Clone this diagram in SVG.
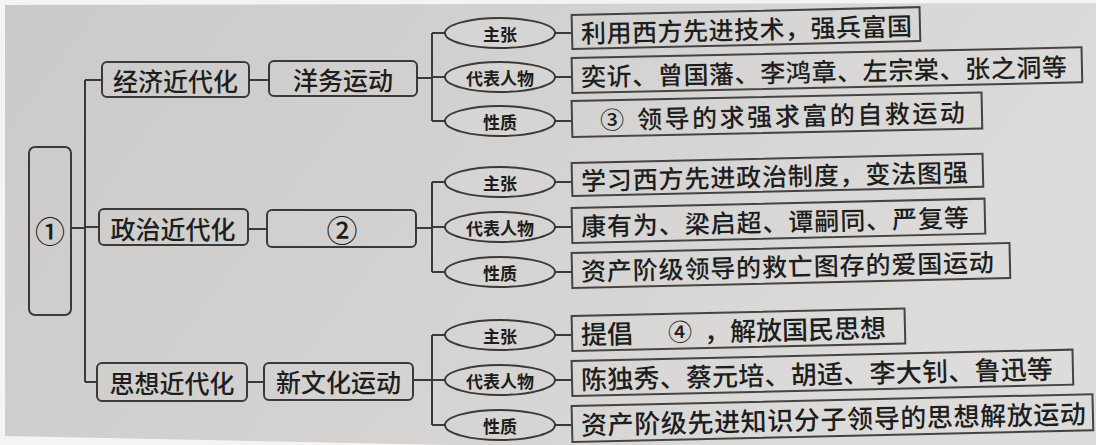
<svg xmlns="http://www.w3.org/2000/svg" width="1096" height="445" viewBox="0 0 1096 445">
<defs>
<linearGradient id="bg" x1="0" y1="0" x2="1" y2="0.3">
<stop offset="0" stop-color="#cbcac8"/>
<stop offset="0.5" stop-color="#d3d2d0"/>
<stop offset="1" stop-color="#dddcda"/>
</linearGradient>
<style>
.ln{stroke:#3a3a3a;stroke-width:2;fill:none}
.rbox{fill:none;stroke:#3a3a3a;stroke-width:2}
.ell{fill:#d6d5d3;stroke:#3a3a3a;stroke-width:2}
.tb{fill:none;stroke:#444;stroke-width:2}
.t{font-family:"Noto Sans CJK SC","Noto Sans CJK TC",sans-serif;fill:#1e1e1e;dominant-baseline:central;font-weight:500}
.big{font-size:25px;text-anchor:middle}
.lab{font-size:17px;font-weight:bold;text-anchor:middle}
.bx{font-size:25px}
</style>
</defs>
<rect x="0" y="0" width="1096" height="445" fill="#f4f4f4"/>
<polygon points="5,5 1096,3 1096,445 450,445 5,436" fill="url(#bg)"/>

<g id="connectors">
<path class="ln" d="M71,228 H85 M85,80 V382 M85,80 H102 M85,227 H99 M85,382 H97"/>
<path class="ln" d="M249,80 H269 M417,78 H432 M248,229 H267 M416,228 H432 M247,382 H264 M413,380 H432"/>
<path class="ln" d="M432,33 V121 M432,33 H445 M432,77 H445 M432,121 H445 M555,33 H572 M555,77 H572 M555,121 H572"/>
<path class="ln" d="M432,182 V272 M432,182 H445 M432,227 H445 M432,272 H445 M555,182 H572 M555,227 H572 M555,272 H572"/>
<path class="ln" d="M432,335 V425 M432,335 H445 M432,380 H445 M432,425 H445 M555,335 H572 M555,380 H572 M555,425 H572"/>
</g>

<g id="root">
<rect class="rbox" x="29" y="147" width="42" height="168" rx="6"/>
<text class="t big" x="50" y="230" style="font-size:30px">①</text>
</g>

<g id="n-jingji">
<rect class="rbox" x="102" y="62" width="147" height="35" rx="5"/>
<text class="t big" x="175.5" y="80">经济近代化</text>
</g>
<g id="n-zhengzhi">
<rect class="rbox" x="99" y="209" width="149" height="36" rx="5"/>
<text class="t big" x="173" y="228">政治近代化</text>
</g>
<g id="n-sixiang">
<rect class="rbox" x="97" y="363" width="150" height="38" rx="5"/>
<text class="t big" x="172" y="382">思想近代化</text>
</g>

<g id="n-yangwu">
<rect class="rbox" x="269" y="61" width="148" height="35" rx="5"/>
<text class="t big" x="343" y="79">洋务运动</text>
</g>
<g id="n-2">
<rect class="rbox" x="267" y="210" width="149" height="37" rx="5"/>
<text class="t big" x="342" y="228" style="font-size:31px">②</text>
</g>
<g id="n-xinwenhua">
<rect class="rbox" x="264" y="363" width="149" height="37" rx="5"/>
<text class="t big" x="338.5" y="381">新文化运动</text>
</g>

<g id="e1a"><ellipse class="ell" cx="500" cy="33" rx="55" ry="15"/><text class="t lab" x="500" y="33">主张</text></g>
<g id="e1b"><ellipse class="ell" cx="500" cy="77" rx="55" ry="15"/><text class="t lab" x="500" y="77">代表人物</text></g>
<g id="e1c"><ellipse class="ell" cx="500" cy="121" rx="55" ry="15"/><text class="t lab" x="500" y="121">性质</text></g>
<g id="e2a"><ellipse class="ell" cx="500" cy="182" rx="55" ry="15"/><text class="t lab" x="500" y="182">主张</text></g>
<g id="e2b"><ellipse class="ell" cx="500" cy="227" rx="55" ry="15"/><text class="t lab" x="500" y="227">代表人物</text></g>
<g id="e2c"><ellipse class="ell" cx="500" cy="272" rx="55" ry="15"/><text class="t lab" x="500" y="272">性质</text></g>
<g id="e3a"><ellipse class="ell" cx="500" cy="335" rx="55" ry="15"/><text class="t lab" x="500" y="335">主张</text></g>
<g id="e3b"><ellipse class="ell" cx="500" cy="380" rx="55" ry="15"/><text class="t lab" x="500" y="380">代表人物</text></g>
<g id="e3c"><ellipse class="ell" cx="500" cy="425" rx="55" ry="15"/><text class="t lab" x="500" y="425">性质</text></g>

<g id="b1a" transform="rotate(-1.3 572 32)">
<rect class="tb" x="572" y="15" width="348" height="34"/>
<text class="t bx" x="581" y="32" textLength="331">利用西方先进技术，强兵富国</text>
</g>
<g id="b1b" transform="rotate(-1.2 572 76)">
<rect class="tb" x="572" y="58" width="510" height="35"/>
<text class="t bx" x="581" y="75.5" textLength="486">奕䜣、曾国藩、李鸿章、左宗棠、张之洞等</text>
</g>
<g id="b1c" transform="rotate(-1.2 572 120)">
<rect class="tb" x="572" y="101" width="410" height="36"/>
<text class="t" x="612" y="119" style="font-size:24px;text-anchor:middle">③</text>
<text class="t bx" x="637" y="119" textLength="328">领导的求强求富的自救运动</text>
</g>

<g id="b2a" transform="rotate(-1.3 572 180)">
<rect class="tb" x="572" y="163" width="411" height="33"/>
<text class="t bx" x="581" y="179.5" textLength="387">学习西方先进政治制度，变法图强</text>
</g>
<g id="b2b" transform="rotate(-1.3 572 226)">
<rect class="tb" x="572" y="208" width="413" height="35"/>
<text class="t bx" x="581" y="225" textLength="388">康有为、梁启超、谭嗣同、严复等</text>
</g>
<g id="b2c" transform="rotate(-1.3 572 271)">
<rect class="tb" x="572" y="253" width="438" height="35"/>
<text class="t bx" x="581" y="270" textLength="413">资产阶级领导的救亡图存的爱国运动</text>
</g>

<g id="b3a" transform="rotate(-1.3 572 334)">
<rect class="tb" x="572" y="316" width="333" height="35"/>
<text class="t bx" x="581" y="333" style="font-size:26px">提倡</text>
<text class="t" x="680" y="333" style="font-size:24px;text-anchor:middle">④</text>
<text class="t bx" x="704" y="333" style="font-size:26px">，解放国民思想</text>
</g>
<g id="b3b" transform="rotate(-1.3 572 379)">
<rect class="tb" x="572" y="361" width="501" height="35"/>
<text class="t bx" x="581" y="378" textLength="472" style="font-size:26px">陈独秀、蔡元培、胡适、李大钊、鲁迅等</text>
</g>
<g id="b3c" transform="rotate(-1.3 572 424)">
<rect class="tb" x="572" y="406" width="521" height="36"/>
<text class="t bx" x="581" y="423.5" textLength="505" style="font-size:26px">资产阶级先进知识分子领导的思想解放运动</text>
</g>
</svg>
